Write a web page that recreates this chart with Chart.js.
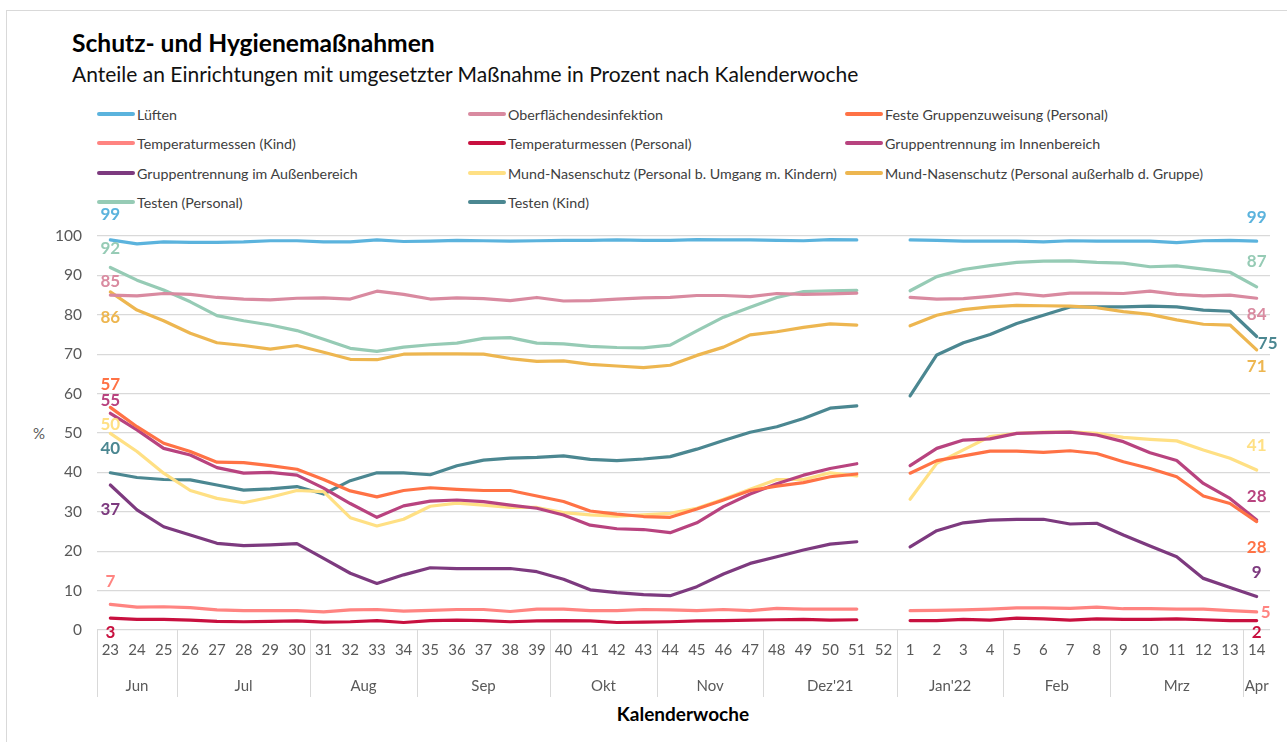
<!DOCTYPE html>
<html><head><meta charset="utf-8">
<script src="https://cdn.jsdelivr.net/npm/chart.js@4.4.1/dist/chart.umd.min.js"></script>
<style>
body{margin:0;width:1287px;height:742px;overflow:hidden;background:#fff;font-family:Lato,"Open Sans",sans-serif;position:relative}
#frame{position:absolute;left:6px;top:10px;width:1320px;height:800px;border-left:1px solid #d9d9d9;border-top:1px solid #d9d9d9}
#title{position:absolute;left:72px;top:28px;font-weight:bold;font-size:24.6px;color:#000;white-space:nowrap;line-height:30px}
#subtitle{position:absolute;left:72px;top:60px;font-size:21px;color:#111;white-space:nowrap;line-height:28px}
#legend .item{position:absolute;height:16px;display:flex;align-items:center;font-size:14.25px;color:#404040;white-space:nowrap}
#legend .sw{width:38px;height:4px;border-radius:2px;margin-right:2px}
#pct{position:absolute;left:33px;top:424px;font-size:15px;color:#595959}
#xtitle{position:absolute;left:0;width:1366px;top:702px;text-align:center;font-weight:bold;font-size:19px;color:#000}
canvas{position:absolute;left:0;top:0}
</style></head>
<body>
<div id="frame"></div>
<div id="title">Schutz- und Hygienemaßnahmen</div>
<div id="subtitle">Anteile an Einrichtungen mit umgesetzter Maßnahme in Prozent nach Kalenderwoche</div>
<div id="legend"></div>
<div id="pct">%</div>
<div id="xtitle">Kalenderwoche</div>
<canvas id="c" width="1287" height="742"></canvas>
<script>
// ---- data ----
const weeks = ['23','24','25','26','27','28','29','30','31','32','33','34','35','36','37','38','39','40','41','42','43','44','45','46','47','48','49','50','51','52','1','2','3','4','5','6','7','8','9','10','11','12','13','14'];
const months = ['Jun','Jul','Aug','Sep','Okt','Nov',"Dez'21","Jan'22",'Feb','Mrz','Apr'];
const monthSpans = [3,5,4,5,4,4,5,4,4,5,1];
const seriesNames = ['Lüften','Oberflächendesinfektion','Feste Gruppenzuweisung (Personal)','Temperaturmessen (Kind)','Temperaturmessen (Personal)','Gruppentrennung im Innenbereich','Gruppentrennung im Außenbereich','Mund-Nasenschutz (Personal b. Umgang m. Kindern)','Mund-Nasenschutz (Personal außerhalb d. Gruppe)','Testen (Personal)','Testen (Kind)'];

const lueften = [99,98,98.5,98.4,98.4,98.5,98.8,98.8,98.5,98.5,99,98.6,98.7,98.9,98.8,98.7,98.8,98.9,98.9,99,98.9,98.9,99.1,99,99,98.9,98.8,99.1,99,null,
  99,98.9,98.7,98.7,98.7,98.5,98.8,98.7,98.7,98.7,98.3,98.8,98.9,98.7];
const oberflaeche = [85,84.8,85.4,85.2,84.4,84,83.8,84.2,84.3,84,86,85.2,84,84.3,84.1,83.6,84.4,83.5,83.6,84,84.3,84.4,84.9,84.9,84.6,85.4,85.2,85.3,85.5,null,
  84.4,84,84.1,84.7,85.4,84.8,85.5,85.5,85.4,86,85.2,84.8,85,84.2];
const festeGruppe = [56.5,51.6,47.4,45.3,42.6,42.5,41.7,40.8,38.2,35.3,33.8,35.4,36.1,35.7,35.4,35.4,34,32.6,30.2,29.4,28.8,28.6,30.7,33,35.4,36.5,37.4,38.9,39.6,null,
  39.8,43,44.2,45.4,45.4,45.1,45.5,44.8,42.7,41,38.9,34,32.1,27.5];
const tempKind = [6.5,5.8,5.9,5.7,5.1,4.9,4.9,4.9,4.6,5.1,5.2,4.8,5,5.2,5.2,4.7,5.3,5.3,4.9,4.9,5.2,5.1,4.9,5.2,4.9,5.5,5.3,5.3,5.3,null,
  4.9,5,5.1,5.3,5.6,5.6,5.5,5.8,5.4,5.4,5.3,5.3,4.9,4.6];
const tempPersonal = [3,2.7,2.7,2.5,2.2,2.1,2.2,2.3,2,2.1,2.4,1.9,2.4,2.5,2.4,2.1,2.3,2.4,2.3,1.9,2,2.1,2.3,2.4,2.5,2.6,2.7,2.5,2.6,null,
  2.4,2.4,2.7,2.5,3,2.8,2.5,2.8,2.7,2.7,2.8,2.6,2.4,2.4];
const trennungInnen = [55,50.8,46.1,44.4,41.2,39.8,40,39.3,36,32.1,28.6,31.5,32.7,33,32.6,31.7,30.9,29.2,26.6,25.7,25.5,24.7,27.2,31.3,34.5,37.1,39.3,41,42.2,null,
  41.7,46.1,48.2,48.5,49.9,50.1,50.2,49.5,47.8,45,43,37.2,33.4,27.9];
const trennungAussen = [36.8,30.5,26.2,24.1,22,21.4,21.6,21.9,18.2,14.4,11.8,14,15.8,15.6,15.6,15.6,14.8,12.9,10.2,9.5,9,8.7,11,14.2,16.9,18.6,20.3,21.8,22.4,null,
  21.1,25.2,27.2,27.9,28.1,28.1,26.9,27.1,24.1,21.3,18.6,13.1,10.8,8.5];
const mnsKinder = [49.9,45.3,39.8,35.4,33.4,32.3,33.7,35.4,35.1,28.5,26.4,28.1,31.4,32.2,31.7,31.1,31.1,29.8,29.2,28.9,29.2,29.6,30.9,33.2,35.7,38.2,38.2,39.9,39.1,null,
  33.2,42.3,45.7,49.1,49.9,50.2,50.3,49.9,48.9,48.4,48,45.7,43.6,40.6];
const mnsAusserhalb = [85.8,81.2,78.5,75.3,72.9,72.2,71.3,72.2,70.5,68.7,68.6,70,70.1,70.1,70,68.9,68.2,68.3,67.4,67,66.6,67.2,69.7,71.8,74.9,75.7,76.8,77.7,77.4,null,
  77.2,79.9,81.3,82,82.4,82.3,82.2,81.8,80.8,80.1,78.7,77.6,77.4,71.1];
const testenPersonal = [92,88.8,86.3,83.3,79.8,78.5,77.4,76,73.8,71.5,70.7,71.8,72.4,72.8,74,74.2,72.8,72.6,72,71.7,71.6,72.3,75.9,79.4,81.9,84.4,85.9,86.1,86.2,null,
  86.1,89.7,91.5,92.5,93.3,93.6,93.7,93.3,93.1,92.2,92.4,91.6,90.8,87.1];
const testenKind = [39.9,38.7,38.2,38.1,36.8,35.5,35.8,36.4,34.5,37.9,39.9,39.9,39.4,41.7,43.1,43.6,43.8,44.2,43.3,43,43.4,44,45.9,48.1,50.2,51.6,53.7,56.3,56.9,null,
  59.4,69.8,72.9,75,77.8,79.9,82,82,82,82.2,82,81.2,80.9,74.5];
const yTicks = [0,10,20,30,40,50,60,70,80,90,100];

// ---- styles ----
const seriesData = [lueften,oberflaeche,festeGruppe,tempKind,tempPersonal,trennungInnen,trennungAussen,mnsKinder,mnsAusserhalb,testenPersonal,testenKind];
const colors = ['#5BB3DD','#D98AA0','#FF7245','#FF8481','#C8103F','#B8437F','#7D3A7F','#FFE084','#EDB650','#96CBB5','#4B8791'];
// label offsets: [leftDy, rightDx, rightDy]
const labelOffsets = [[-25,0,-24],[-14,0,16],[-23,0,26],[-23,9,1],[14,0,12],[-13,0,-24],[25,0,-24],[-9,0,-25],[26,0,17],[-19,0,-25],[-24,11,7]];

// legend (HTML)
const legendCols = [97,468,845];
const legendRows = [114,143,173,202];
const leg = document.getElementById('legend');
seriesNames.forEach((n,i)=>{
  const d=document.createElement('div');d.className='item';
  d.style.left=legendCols[i%3]+'px';d.style.top=(legendRows[Math.floor(i/3)]-8)+'px';
  d.innerHTML='<span class="sw" style="background:'+colors[i]+'"></span>'+n;
  leg.appendChild(d);
});

const edgeLabels = {
  id:'edgeLabels',
  afterDatasetsDraw(chart){
    const ctx=chart.ctx;ctx.save();
    ctx.font='bold 17px Lato';ctx.textAlign='center';ctx.textBaseline='middle';
    chart.data.datasets.forEach((ds,i)=>{
      const meta=chart.getDatasetMeta(i);
      const first=meta.data[0], last=meta.data[meta.data.length-1];
      ctx.fillStyle=colors[i];
      ctx.fillText(String(Math.round(ds.data[0])), first.x, first.y+labelOffsets[i][0]);
      ctx.fillText(String(Math.round(ds.data[ds.data.length-1])), last.x+labelOffsets[i][1], last.y+labelOffsets[i][2]);
    });
    ctx.restore();
  }
};
const monthAxis = {
  id:'monthAxis',
  afterDraw(chart){
    const ctx=chart.ctx, xs=chart.scales.x, ca=chart.chartArea;
    const step=xs.getPixelForValue(1)-xs.getPixelForValue(0);
    ctx.save();
    ctx.strokeStyle='#d9d9d9';ctx.lineWidth=1;
    ctx.fillStyle='#595959';ctx.font='15px Lato';ctx.textAlign='center';ctx.textBaseline='middle';
    let idx=0;
    const line=(x)=>{ctx.beginPath();ctx.moveTo(Math.round(x)+0.5,ca.bottom);ctx.lineTo(Math.round(x)+0.5,ca.bottom+67);ctx.stroke();};
    line(xs.getPixelForValue(0)-step/2);
    months.forEach((m,k)=>{
      const a=xs.getPixelForValue(idx)-step/2, b=xs.getPixelForValue(idx+monthSpans[k]-1)+step/2;
      ctx.fillText(m,(a+b)/2,ca.bottom+56);
      idx+=monthSpans[k];
      if(k<months.length-1) line(b);
    });
    ctx.restore();
  }
};

new Chart(document.getElementById('c'),{
  type:'line',
  data:{labels:weeks,datasets:seriesData.map((d,i)=>({label:seriesNames[i],data:d,borderColor:colors[i],backgroundColor:colors[i],borderWidth:3.2,pointRadius:0,tension:0,spanGaps:false,borderCapStyle:'round',borderJoinStyle:'round'}))},
  options:{
    responsive:false,animation:false,
    layout:{padding:{left:0,right:17,top:236,bottom:0}},
    plugins:{legend:{display:false},tooltip:{enabled:false}},
    scales:{
      x:{type:'category',offset:true,grid:{display:false,drawTicks:false},border:{display:false},
         ticks:{autoSkip:false,maxRotation:0,minRotation:0,padding:11,color:'#595959',font:{family:'Lato',size:15}},
         afterFit(s){s.height=112;}},
      y:{min:0,max:100,afterBuildTicks(s){s.ticks=yTicks.map(v=>({value:v}));},
         grid:{color:'#d9d9d9',drawTicks:false,lineWidth:1.3},border:{display:false},
         ticks:{padding:15,color:'#595959',font:{family:'Lato',size:15.5}},
         afterFit(s){s.width=97;}}
    }
  },
  plugins:[edgeLabels,monthAxis]
});
</script>
</body></html>
